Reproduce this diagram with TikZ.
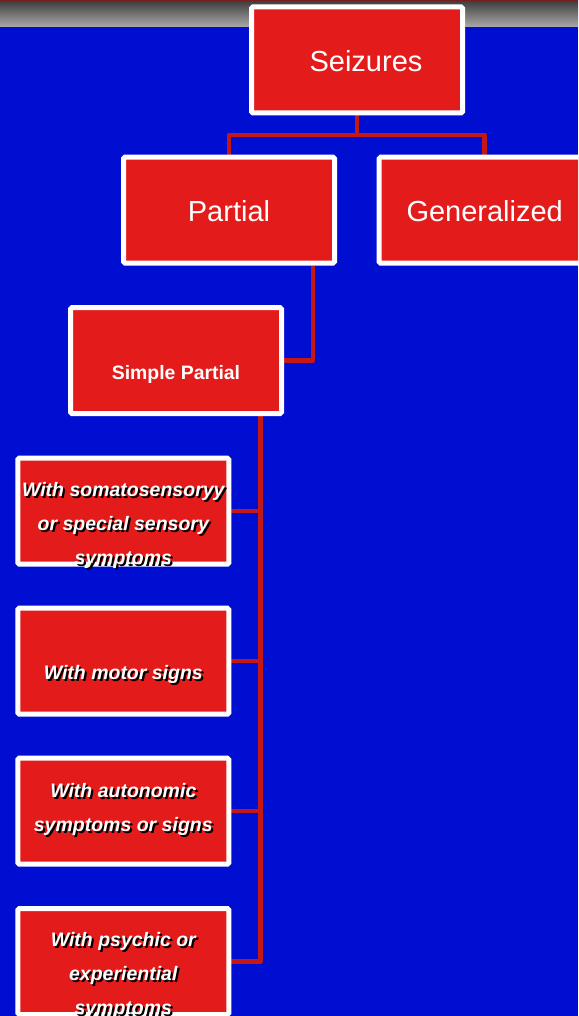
\documentclass[tikz,border=0pt]{standalone}
\usepackage{fontspec}
\setmainfont{Liberation Sans}
\usetikzlibrary{backgrounds}
\definecolor{bgblue}{RGB}{0,14,210}
\definecolor{boxred}{RGB}{228,27,27}
\definecolor{linered}{RGB}{196,24,24}
\definecolor{bardark}{RGB}{58,58,58}
\definecolor{barlight}{RGB}{170,170,170}
\definecolor{barred}{RGB}{120,30,30}
\newcommand\shd[1]{\makebox[0pt][l]{\kern2pt\raisebox{-2pt}{\textcolor{black}{#1}}}#1}
\begin{document}
\begin{tikzpicture}[x=1pt,y=-1pt,
  box/.style={draw=white, line width=5pt, fill=boxred, rounded corners=1.5pt,
    minimum width=211pt, minimum height=106pt, inner sep=0pt},
  big/.style={text=white, font=\fontsize{29}{34}\selectfont, inner sep=0pt},
  mid/.style={text=white, font=\fontsize{19.4}{22}\selectfont\bfseries, inner sep=0pt},
  leaf/.style={text=white, font=\fontsize{19.5}{34}\selectfont\bfseries\itshape,
    align=center, inner sep=0pt},
  conn/.style={draw=linered, line width=4.5pt, line join=round}]
\useasboundingbox (0,0) rectangle (578,1016);
\clip (0,0) rectangle (578,1016);

% boxes
\node[box] (seiz) at (357,60) {};
\node[box] (part) at (229,210.2) {};
\node[box] (gen) at (484.7,210.2) {};
\node[box] (simp) at (176,360.7) {};
\node[box] (l1) at (123.3,511.2) {};
\node[box] (l2) at (123.3,661.2) {};
\node[box] (l3) at (123.3,811.2) {};
\node[box] (l4) at (123.3,961.5) {};

% texts
\node[big] (tseiz) at ([xshift=9,yshift=-1]seiz.center) {Seizures};
\node[big] (tpart) at ([yshift=-1]part.center) {Partial};
\node[big] (tgen) at ([yshift=-1]gen.center) {Generalized};
\node[mid] (tsimp) at ([yshift=-14]simp.center) {Simple Partial};
\node[leaf] (tl1) at ([yshift=-15]l1.center) {\shd{With somatosensoryy}\\\shd{or special sensory}\\\shd{symptoms}};
\node[leaf] (tl2) at ([yshift=-14]l2.center) {\shd{With motor signs}};
\node[leaf] (tl3) at ([yshift=1]l3.center) {\shd{With autonomic}\\\shd{symptoms or signs}};
\node[leaf] (tl4) at ([yshift=-15]l4.center) {\shd{With psychic or}\\\shd{experiential}\\\shd{symptoms}};

% background and connectors
\begin{scope}[on background layer]
\fill[bgblue] (0,0) rectangle (578,1016);
\shade[top color=bardark, bottom color=barlight] (0,0) rectangle (578,27);
\fill[barred] (0,0) rectangle (578,1.2);
\coordinate (j1) at (357,135);
\draw[conn] (seiz.south) -- (j1) -| (part.north);
\draw[conn] (j1) -| (gen.north);
\draw[conn] ([xshift=84]part.south) |- (simp.east);
\coordinate (sv) at ([xshift=84.5]simp.south);
\draw[conn] (sv) |- (l1.east);
\draw[conn] (sv) |- (l2.east);
\draw[conn] (sv) |- (l3.east);
\draw[conn] (sv) |- (l4.east);
\end{scope}
\end{tikzpicture}
\end{document}
